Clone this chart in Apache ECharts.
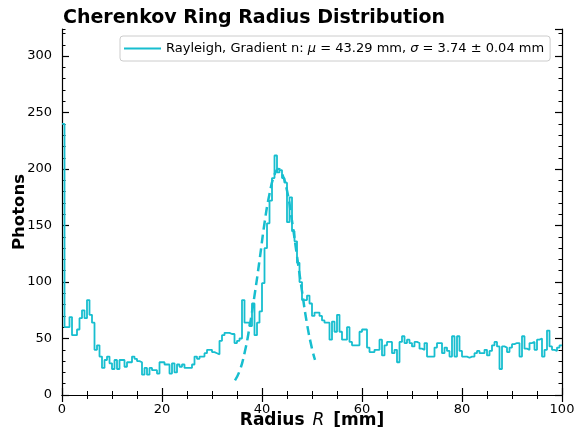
<!DOCTYPE html>
<html><head><meta charset="utf-8">
<script src="https://cdn.jsdelivr.net/npm/echarts@6/dist/echarts.min.js"></script>
<style>html,body{margin:0;padding:0;background:#fff}#c{width:579px;height:433px}</style>
</head><body><div id="c"></div>
<script>
// Histogram: bins of 0.5 mm from 0 to 100 mm
const binWidth = 0.5;
const photonCounts = [
  240, 60, 60, 69, 53, 53, 58, 68, 75, 68,
  84, 71, 64, 40, 44, 34, 24, 31, 34, 28,
  23, 31, 23, 31, 31, 25, 29, 29, 34, 32,
  30, 29, 18, 24, 18, 24, 22, 22, 19, 29,
  29, 27, 27, 19, 28, 20, 27, 25, 27, 24,
  24, 24, 27, 34, 32, 34, 34, 37, 40, 40,
  38, 37, 36, 48, 53, 55, 55, 54, 54, 46,
  48, 50, 84, 64, 64, 61, 81, 53, 64, 74,
  99, 130, 152, 172, 192, 212, 197, 199, 192, 188,
  153, 175, 145, 136, 117, 100, 84, 84, 88, 81,
  70, 73, 73, 70, 66, 64, 64, 49, 65, 56,
  71, 56, 49, 49, 60, 47, 44, 44, 44, 56,
  58, 58, 42, 38, 38, 40, 40, 49, 35, 44,
  47, 47, 37, 40, 29, 47, 52, 46, 49, 46,
  43, 47, 46, 41, 40, 46, 34, 34, 34, 42,
  46, 46, 37, 42, 39, 34, 52, 34, 52, 39,
  34, 34, 33, 34, 34, 37, 39, 37, 37, 40,
  35, 39, 44, 47, 43, 23, 43, 42, 38, 42,
  45, 46, 46, 34, 52, 41, 40, 46, 47, 40,
  49, 50, 34, 40, 57, 43, 40, 39, 42, 44
];
// Fitted curve (dashed)
const fitRadius  = [34.6, 35.5, 36.5, 37.5, 38.5, 39.5, 40.5, 41.5, 42.5, 43.3, 44, 45, 46, 47, 48, 49, 50, 50.6];
const fitPhotons = [13, 21, 37, 60, 88, 119, 152, 178, 195, 200, 196, 181, 154, 123, 92, 63, 41, 31];

const xRange = [0, 100];
const yRange = [0, 324];
const xMajor = 20, yMajor = 50, yMinor = 10;

const FONT = 'DejaVu Sans';
const CYAN = '#17becf';
const HIST_NAME = 'Rayleigh, Gradient n';

const histData = photonCounts.map((v, i) => [i * binWidth, v]);
histData.push([photonCounts.length * binWidth, photonCounts[photonCounts.length - 1]]);
const fitData = fitRadius.map((r, i) => [r, fitPhotons[i]]);

const axisLineStyle = { color: '#000', width: 1.2 };
function xAx(pos, labels) {
  return {
    type: 'value', min: xRange[0], max: xRange[1], interval: xMajor, position: pos,
    axisLine: { show: true, lineStyle: axisLineStyle },
    axisTick: { show: true, inside: true, length: 7, lineStyle: { color: '#000', width: 1.2 } },
    minorTick: { show: true, splitNumber: 4, length: 4, lineStyle: { color: '#000', width: 1 } },
    splitLine: { show: false },
    axisLabel: { show: labels, fontFamily: FONT, fontSize: 13, color: '#000', margin: 8 }
  };
}
function yAx(pos, interval, tickLen, labels, line) {
  return {
    type: 'value', min: yRange[0], max: yRange[1], interval: interval, position: pos,
    axisLine: { show: line, lineStyle: axisLineStyle },
    axisTick: { show: true, inside: true, length: tickLen, lineStyle: { color: '#000', width: tickLen > 5 ? 1.2 : 1 } },
    splitLine: { show: false },
    axisLabel: { show: labels, showMaxLabel: false, fontFamily: FONT, fontSize: 13, color: '#000', margin: 10 }
  };
}

const xBottom = xAx('bottom', true);
xBottom.name = '{b|Radius }{i|R}{b| [mm]}';
xBottom.nameLocation = 'middle';
xBottom.nameGap = 17;
xBottom.nameMoveOverlap = false;
xBottom.nameTextStyle = { rich: {
  b: { fontFamily: FONT, fontWeight: 'bold', fontSize: 17, color: '#000' },
  i: { fontFamily: FONT, fontStyle: 'italic', fontSize: 17, color: '#000', padding: [0, 3, 0, 2] }
} };
const yLeft = yAx('left', yMajor, 7, true, true);
yLeft.name = 'Photons';
yLeft.nameLocation = 'middle';
yLeft.nameGap = 34;
yLeft.nameMoveOverlap = false;
yLeft.nameTextStyle = { fontFamily: FONT, fontWeight: 'bold', fontSize: 16.5, color: '#000' };

const option = {
  animation: false,
  backgroundColor: '#fff',
  title: {
    text: 'Cherenkov Ring Radius Distribution', left: 58, top: 4,
    textStyle: { fontFamily: FONT, fontWeight: 'bold', fontSize: 19, color: '#000' }
  },
  legend: {
    data: [{ name: HIST_NAME }],
    left: 120, top: 36,
    padding: [6, 6, 6, 4],
    icon: 'rect', itemWidth: 37, itemHeight: 2,
    borderColor: '#cccccc', borderWidth: 1, borderRadius: 3,
    backgroundColor: '#fff',
    formatter: () => '{t|Rayleigh, Gradient n: }{m|μ}{t| = 43.29 mm, }{m|σ}{t| = 3.74 ± 0.04 mm}',
    textStyle: {
      fontFamily: FONT, fontSize: 13, color: '#000',
      rich: {
        t: { fontFamily: FONT, fontSize: 13, color: '#000' },
        m: { fontFamily: FONT, fontStyle: 'italic', fontSize: 13, color: '#000' }
      }
    }
  },
  grid: { left: 62, right: 17, top: 29, bottom: 38, outerBoundsMode: 'none', containLabel: false },
  xAxis: [xBottom, xAx('top', false)],
  yAxis: [
    yLeft,
    yAx('left', yMinor, 3.5, false, false),
    yAx('right', yMajor, 7, false, true),
    yAx('right', yMinor, 3.5, false, false)
  ],
  series: [
    {
      name: HIST_NAME, type: 'line', step: 'end', data: histData,
      xAxisIndex: 0, yAxisIndex: 0, showSymbol: false, symbol: 'none',
      lineStyle: { color: CYAN, width: 1.8 }, itemStyle: { color: CYAN }, z: 3
    },
    {
      name: 'fit', type: 'line', data: fitData, smooth: true,
      xAxisIndex: 0, yAxisIndex: 0, showSymbol: false, symbol: 'none',
      lineStyle: { color: CYAN, width: 2.5, type: [9, 5] }, itemStyle: { color: CYAN }, z: 4
    }
  ]
};
const chart = echarts.init(document.getElementById('c'), null, { renderer: 'canvas' });
chart.setOption(option);
</script></body></html>
